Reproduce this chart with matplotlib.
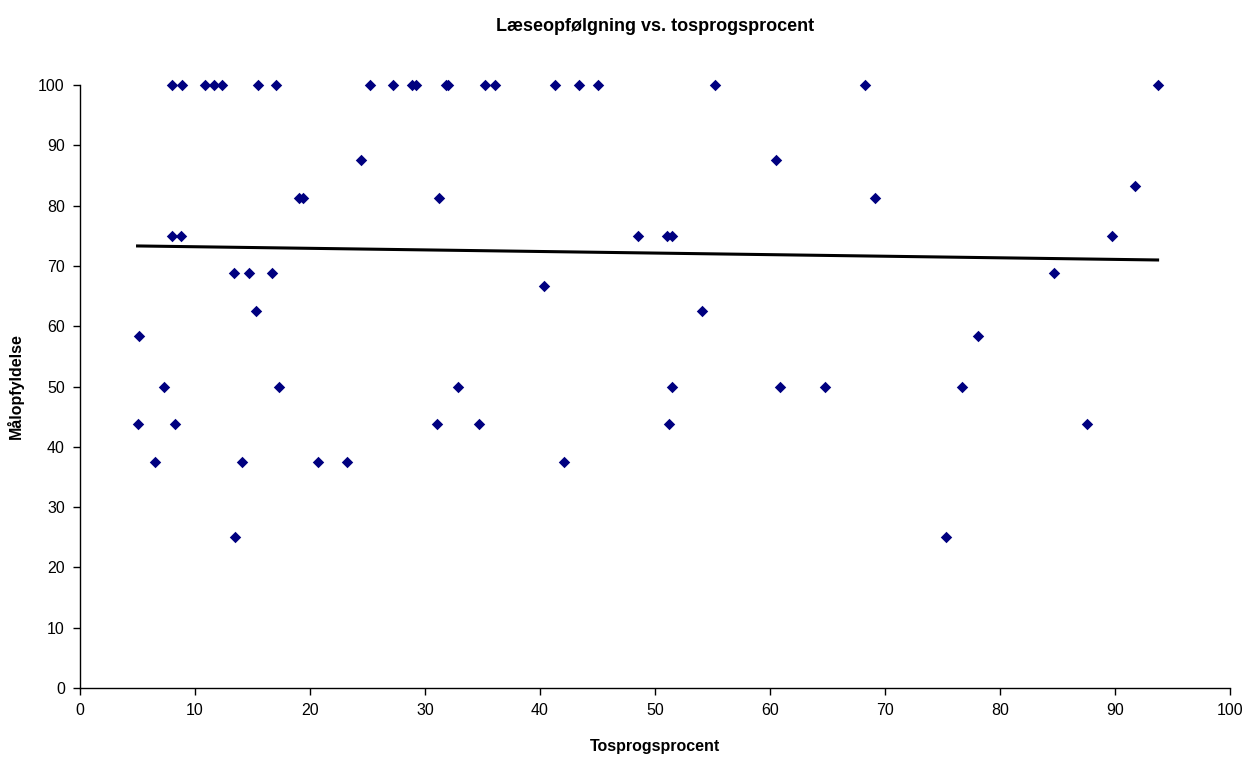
import numpy as np
import matplotlib
matplotlib.use('Agg')
import matplotlib.pyplot as plt

plt.rcParams['font.family'] = ['Liberation Sans', 'DejaVu Sans']

# Data (tosprogsprocent, målopfyldelse)
tosprog = [7.97, 8.84, 10.87, 11.65, 12.32, 15.45, 17.02, 25.2, 27.2, 28.9, 29.2,
           31.8, 32.0, 35.2, 36.1, 41.3, 43.4, 45.0, 55.2, 68.3, 93.7,
           24.4, 60.5,
           19.0, 19.4, 31.2, 69.1,
           91.7,
           7.97, 8.75, 48.5, 51.0, 51.5, 89.7,
           13.4, 14.7, 16.7, 84.7,
           40.35,
           15.3, 54.1,
           5.13, 78.1,
           7.33, 17.3, 32.9, 51.5, 60.9, 64.8, 76.7,
           5.0, 8.26, 31.0, 34.7, 51.2, 87.6,
           6.55, 14.1, 20.7, 23.2, 42.1,
           13.5, 75.3]
maal = [100] * 21 + \
       [87.5] * 2 + \
       [81.25] * 4 + \
       [83.33] + \
       [75] * 6 + \
       [68.75] * 4 + \
       [66.67] + \
       [62.5] * 2 + \
       [58.33] * 2 + \
       [50] * 7 + \
       [43.75] * 6 + \
       [37.5] * 5 + \
       [25] * 2

x = np.array(tosprog)
y = np.array(maal)

fig = plt.figure(figsize=(12.47, 7.57), dpi=100)
ax = fig.add_axes([0.0642, 0.0911, 0.9222, 0.7966])

ax.scatter(x, y, marker='D', s=34, color='#000080', zorder=3, linewidths=0, clip_on=False)

# Linear trendline
k, m = np.polyfit(x, y, 1)
xt = np.array([x.min(), x.max()])
ax.plot(xt, k * xt + m, color='black', lw=2.2, zorder=2)

ax.set_xlim(0, 100)
ax.set_ylim(0, 100)
ax.set_xticks(np.arange(0, 101, 10))
ax.set_yticks(np.arange(0, 101, 10))
for s in ['top', 'right']:
    ax.spines[s].set_visible(False)
for s in ['left', 'bottom']:
    ax.spines[s].set_linewidth(1.0)
ax.tick_params(direction='out', length=5, width=1, labelsize=11.5, pad=6)

ax.set_title('Læseopfølgning vs. tosprogsprocent', fontsize=13, fontweight='bold', pad=39)
ax.set_xlabel('Tosprogsprocent', fontsize=11.5, fontweight='bold', labelpad=15)
ax.set_ylabel('Målopfyldelse', fontsize=11.5, fontweight='bold', labelpad=10)

fig.savefig('out.png', dpi=100)
